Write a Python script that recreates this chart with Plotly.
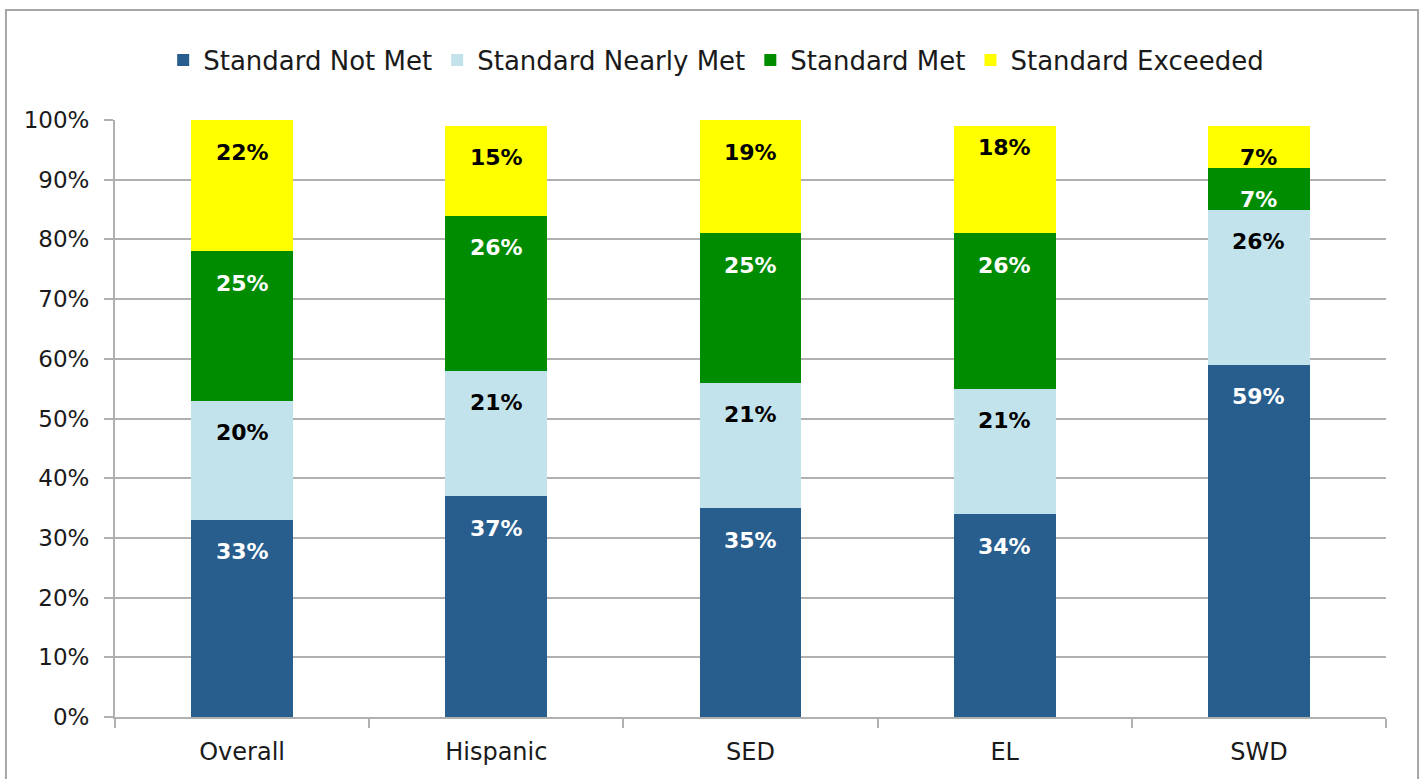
import plotly.graph_objects as go

# Student groups and share of students at each achievement level (%)
groups = ["Overall", "Hispanic", "SED", "EL", "SWD"]
not_met = [33, 37, 35, 34, 59]
nearly_met = [20, 21, 21, 21, 26]
met = [25, 26, 25, 26, 7]
exceeded = [22, 15, 19, 18, 7]

series = [
    ("Standard Not Met", not_met, "#285E8E", "white"),
    ("Standard Nearly Met", nearly_met, "#C3E3EC", "black"),
    ("Standard Met", met, "#008C00", "white"),
    ("Standard Exceeded", exceeded, "#FFFF00", "black"),
]

# Labels sit just inside the top of each segment; one label is nudged higher
LABEL_SHIFT = -32
label_shift_override = {("Standard Exceeded", "EL"): -22}

FONT = "DejaVu Sans"
fig = go.Figure()
annotations = []
base = [0] * len(groups)
for name, vals, color, txt_color in series:
    fig.add_trace(go.Bar(
        name=name, x=groups, y=vals, marker=dict(color=color, line=dict(width=0)),
        hoverinfo="skip",
    ))
    for i, (g, v) in enumerate(zip(groups, vals)):
        top = base[i] + v
        annotations.append(dict(
            x=g, y=top, xref="x", yref="y", text=f"<b>{v}%</b>", showarrow=False,
            yanchor="middle", yshift=label_shift_override.get((name, g), LABEL_SHIFT),
            font=dict(family=FONT, size=22, color=txt_color),
        ))
        base[i] = top

fig.update_layout(
    barmode="stack",
    bargap=0.6,
    width=1426, height=779,
    margin=dict(l=115, r=40, t=120, b=62, autoexpand=False),
    paper_bgcolor="white", plot_bgcolor="white",
    font=dict(family=FONT, size=24, color="#1A1A1A"),
    legend=dict(
        orientation="h", x=0.473, xanchor="center", y=1.1005, yanchor="middle",
        font=dict(family=FONT, size=26, color="#1A1A1A"), traceorder="normal",
        bgcolor="rgba(0,0,0,0)", itemclick=False,
    ),
    annotations=annotations,
    shapes=[dict(
        type="rect", xref="paper", yref="paper",
        x0=-0.0858, x1=1.0252, y0=-0.2, y1=1.1843,
        line=dict(color="#A6A6A6", width=2), fillcolor="rgba(0,0,0,0)", layer="below",
    )],
)
fig.update_yaxes(
    range=[0, 100], tickvals=list(range(0, 101, 10)),
    ticktext=[f"{v}%" for v in range(0, 101, 10)],
    showgrid=True, gridcolor="#B0B0B0", gridwidth=2,
    showline=True, linecolor="#B0B0B0", linewidth=2,
    ticks="outside", ticklen=9, tickcolor="#B0B0B0", tickwidth=2,
    zeroline=False, tickfont=dict(size=23), ticklabelstandoff=10,
)
fig.update_xaxes(
    showline=True, linecolor="#B0B0B0", linewidth=2,
    ticks="outside", ticklen=9, tickcolor="#B0B0B0", tickwidth=2,
    tickson="boundaries", ticklabelstandoff=12,
)

fig.write_html("out.html")
